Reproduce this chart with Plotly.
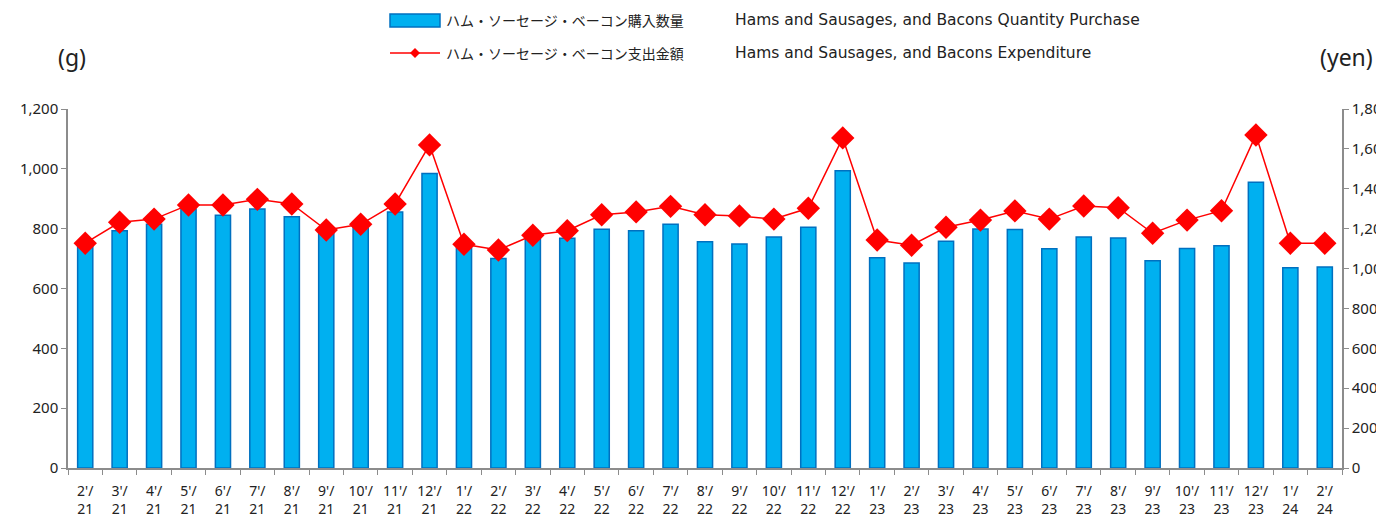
import plotly.graph_objects as go

months = ["2'/<br>21", "3'/<br>21", "4'/<br>21", "5'/<br>21", "6'/<br>21", "7'/<br>21", "8'/<br>21",
          "9'/<br>21", "10'/<br>21", "11'/<br>21", "12'/<br>21",
          "1'/<br>22", "2'/<br>22", "3'/<br>22", "4'/<br>22", "5'/<br>22", "6'/<br>22", "7'/<br>22",
          "8'/<br>22", "9'/<br>22", "10'/<br>22", "11'/<br>22", "12'/<br>22",
          "1'/<br>23", "2'/<br>23", "3'/<br>23", "4'/<br>23", "5'/<br>23", "6'/<br>23", "7'/<br>23",
          "8'/<br>23", "9'/<br>23", "10'/<br>23", "11'/<br>23", "12'/<br>23",
          "1'/<br>24", "2'/<br>24"]

quantity_g = [740, 793, 815, 866, 845, 866, 840, 795, 808, 856, 984,
              745, 700, 770, 768, 798, 793, 815, 756, 749, 772, 805, 994,
              703, 685, 758, 799, 797, 733, 772, 769, 693, 734, 743, 955,
              669, 672]

expenditure_yen = [1127, 1232, 1248, 1319, 1319, 1347, 1324, 1193, 1222, 1324, 1620,
                   1122, 1093, 1167, 1190, 1270, 1284, 1312, 1270, 1264, 1248, 1302, 1655,
                   1143, 1117, 1207, 1243, 1289, 1248, 1314, 1305, 1177, 1243, 1290, 1670,
                   1127, 1127]

name_qty_jp = "ハム・ソーセージ・ベーコン購入数量"
name_qty_en = "Hams and Sausages, and Bacons Quantity Purchase"
name_exp_jp = "ハム・ソーセージ・ベーコン支出金額"
name_exp_en = "Hams and Sausages, and Bacons Expenditure"

OFF = 8  # page body margin
W, H = 1384 - OFF, 517 - OFF
# plot area in window pixels: x 68..1342, y 109..468
L = 68 - OFF
T = 109 - OFF
R = W - (1342 - OFF)
B = H - (468 - OFF)
PW, PH = W - L - R, H - T - B

def px(x):
    return (x - OFF - L) / PW

def py(y):
    return (H - B - (y - OFF)) / PH

tick_font = dict(family="Noto Sans, Open Sans, sans-serif", size=15, color="#222")
xtick_font = dict(family="Noto Sans, Open Sans, sans-serif", size=14, color="#222")
jp_font = dict(family="Noto Sans CJK JP, sans-serif", size=14, color="#222")
en_font = dict(family="DejaVu Sans, Verdana, sans-serif", size=15.5, color="#222")

fig = go.Figure()
fig.add_trace(go.Bar(
    x=months, y=quantity_g, name=name_qty_jp + " " + name_qty_en,
    marker=dict(color="#00B0F0", line=dict(color="#0070C0", width=1.5)),
    yaxis="y", showlegend=False,
))
fig.add_trace(go.Scatter(
    x=months, y=expenditure_yen, name=name_exp_jp + " " + name_exp_en, mode="lines+markers",
    line=dict(color="#FF0000", width=1.5),
    marker=dict(symbol="diamond", size=18, color="#FF0000"),
    yaxis="y2", showlegend=False,
))

axis_line = dict(showline=True, linecolor="#8c8c8c", linewidth=1.5, ticks="outside",
                 tickcolor="#8c8c8c", ticklen=5, showgrid=False, zeroline=False)

fig.update_layout(
    width=W, height=H,
    margin=dict(l=L, r=R, t=T, b=B, autoexpand=False),
    plot_bgcolor="white", paper_bgcolor="white",
    bargap=0.56,
    xaxis=dict(**axis_line, tickson="boundaries", tickfont=xtick_font, tickangle=0,
               ticklabelstandoff=9,
               range=[-0.5, len(months) - 0.5], automargin=False),
    yaxis=dict(**axis_line, range=[0, 1200], dtick=200, tickformat=",", tickfont=tick_font,
               automargin=False),
    yaxis2=dict(**axis_line, range=[0, 1800], dtick=200, tickformat=",", tickfont=tick_font,
                overlaying="y", side="right", automargin=False),
    showlegend=False,
)

# legend (drawn manually to match wide swatches)
fig.add_shape(type="rect", xref="paper", yref="paper",
              x0=px(390), x1=px(440), y0=py(27), y1=py(14),
              fillcolor="#00B0F0", line=dict(color="#0070C0", width=1.5))
fig.add_shape(type="line", xref="paper", yref="paper",
              x0=px(390), x1=px(440), y0=py(53), y1=py(53),
              line=dict(color="#FF0000", width=1.5))
fig.add_shape(type="path", xref="paper", yref="paper",
              path=f"M {px(415)} {py(48)} L {px(420)} {py(53)} L {px(415)} {py(58)} L {px(410)} {py(53)} Z",
              fillcolor="#FF0000", line=dict(color="#FF0000", width=0))
for jp, en, yy in [(name_qty_jp, name_qty_en, 20), (name_exp_jp, name_exp_en, 53)]:
    fig.add_annotation(text=jp, xref="paper", yref="paper", x=px(444), y=py(yy),
                       xanchor="left", yanchor="middle", showarrow=False, font=jp_font)
    fig.add_annotation(text=en, xref="paper", yref="paper", x=px(733), y=py(yy),
                       xanchor="left", yanchor="middle", showarrow=False, font=en_font)

unit_font = dict(family="Noto Sans, sans-serif", size=23, color="#222")
fig.add_annotation(text="(g)", xref="paper", yref="paper", x=px(72), y=py(57),
                   xanchor="center", yanchor="middle", showarrow=False, font=unit_font)
fig.add_annotation(text="(yen)", xref="paper", yref="paper", x=px(1346), y=py(57),
                   xanchor="center", yanchor="middle", showarrow=False, font=unit_font)

fig.write_html("out.html")
